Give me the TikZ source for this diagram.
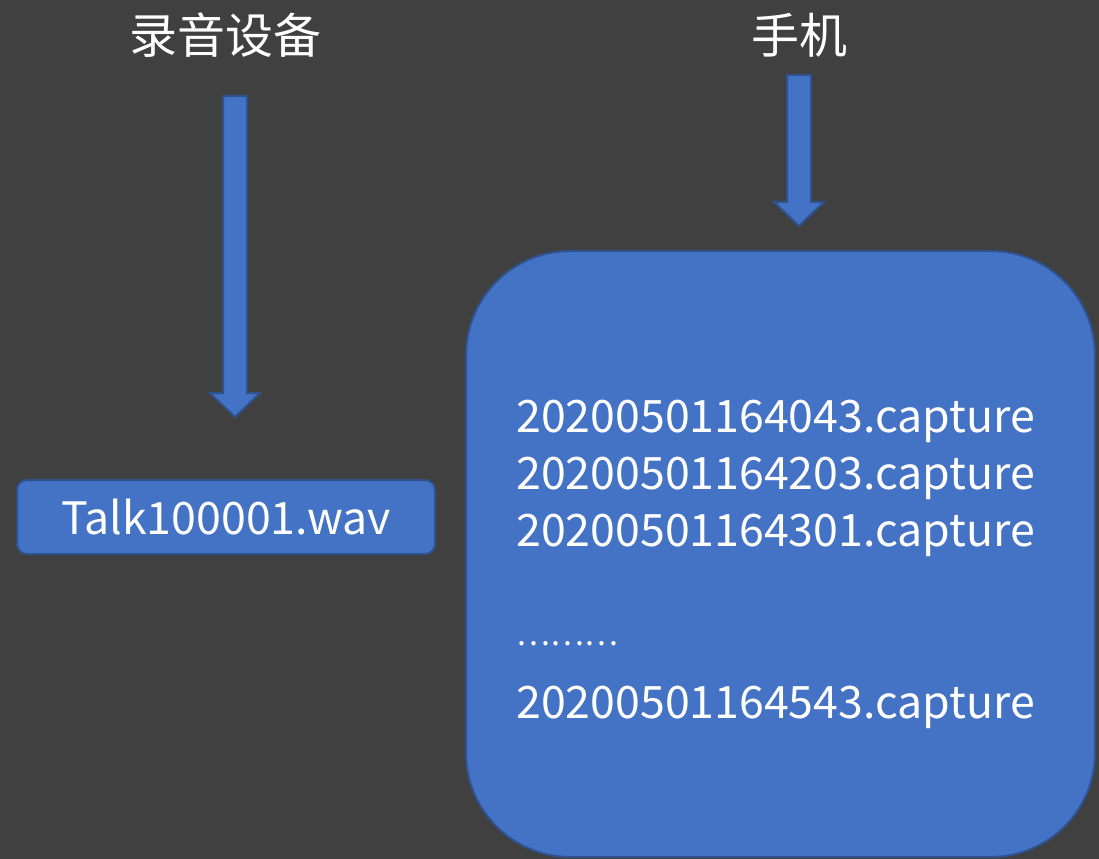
\documentclass[tikz,border=0pt]{standalone}
\usepackage{fontspec}
\setmainfont{Noto Sans CJK SC}
\usetikzlibrary{calc}
\usetikzlibrary{positioning}
\definecolor{slidebg}{HTML}{404040}
\definecolor{boxfill}{HTML}{4472C4}
\definecolor{boxline}{HTML}{2F528F}
\tikzset{
  pics/downarrow/.style args = {#1}{
    code = {
      % shaft, then head with tip at (0,#1)
      \draw[blockline]
        (-12,0) -- (12,0) -- (12,#1-24) -- (25,#1-24)
          -- (0,#1) -- (-25,#1-24) -- (-12,#1-24) -- cycle;
    },
  },
}

\begin{document}
\begin{tikzpicture}[
    x = 0.75pt, y = -0.75pt,
    blockline/.style = {draw = boxline, fill = boxfill, line width = 1.5pt},
    title/.style = {text = white, font = \fontsize{36}{40}\selectfont},
    filename/.style = {text = white, inner sep = 0,
      font = \fontsize{33.5}{40}\selectfont},
  ]
  \fill[slidebg] (0,0) rectangle (1099,859);
  \useasboundingbox (0,0) rectangle (1099,859);

  \node[title] (recorder) at (225,35) {录音设备};
  \node[title] (phone) at (799,35) {手机};

  \coordinate (recorder-out) at (235,96);
  \coordinate (phone-out) at (799,75);
  \pic at (recorder-out) {downarrow=321};
  \pic at (phone-out) {downarrow=151};

  \node[
    blockline, filename,
    rounded corners = 7.5pt,
    minimum width = 313.5pt, minimum height = 55.5pt,
  ] (wav) at (226,517) {Talk100001.wav};

  \node[
    blockline,
    rounded corners = 78pt,
    minimum width = 471.75pt, minimum height = 454.5pt,
  ] (captures) at (780.5,554) {};

  \foreach \stamp [count=\i] in {20200501164043,20200501164203,20200501164301}
  {
    \node[filename, anchor = base west] (capture-\i)
      at (516,{432+57*(\i-1)}) {\stamp.capture};
  }
  \node[filename, anchor = base west, font = \fontsize{24}{30}\selectfont]
    (capture-dots) at (516,645) {………};
  \node[filename, anchor = base west] (capture-last)
    at (516,718) {20200501164543.capture};
\end{tikzpicture}
\end{document}
